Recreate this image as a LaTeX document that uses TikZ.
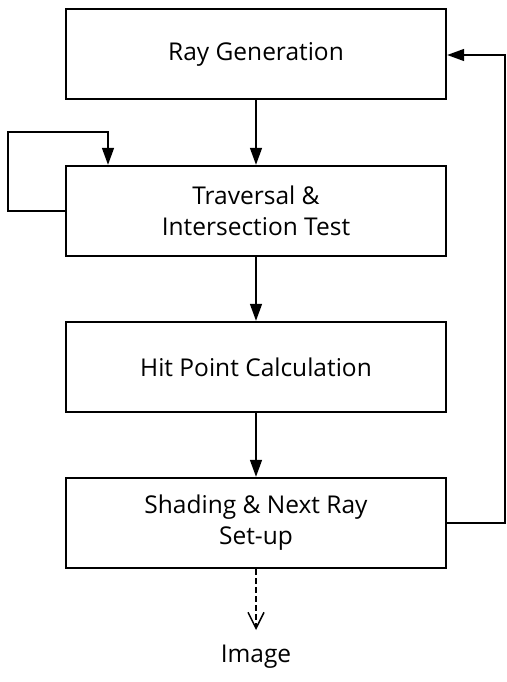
\documentclass[tikz,border=0pt]{standalone}
\usepackage{fontspec}
\setmainfont{Open Sans}
\usetikzlibrary{arrows.meta}
\begin{document}
\begin{tikzpicture}[x=1pt,y=-1pt,
  stage/.style={draw,line width=2.4pt,minimum width=380pt,minimum height=90pt,align=center,font=\fontsize{24.5}{31}\selectfont,inner sep=0pt},
  conn/.style={line width=1.5pt,-{Triangle[length=17pt,width=12pt]}},
  plain/.style={line width=1.5pt}]
\useasboundingbox (0,0) rectangle (506,682);
\node[stage] (rg) at (256,54) {Ray Generation};
\node[stage] (tr) at (256,211) {Traversal \&\\Intersection Test};
\node[stage] (hp) at (256,367) {Hit Point Calculation};
\node[stage] (sh) at (256,523) {Shading \& Next Ray\\Set-up};
\node[font=\fontsize{24.5}{28}\selectfont,inner sep=0pt] (img) at (256,657) {Image};
\coordinate (outend) at (256,630);
\coordinate (r1) at (505,523);
\coordinate (r2) at (505,55);
\coordinate (l1) at (8,211);
\coordinate (l2) at (8,132);
\coordinate (l3) at (108,132);
\draw[conn] (rg) -- (tr);
\draw[conn] (tr) -- (hp);
\draw[conn] (hp) -- (sh);
\draw[line width=1.5pt,dash pattern=on 6pt off 3pt,-{Straight Barb[length=16pt,width=16pt,line width=1.5pt]}] (sh.south) -- (outend);
\draw[conn] (sh.east) -- (r1) -- (r2) -- (r2 -| rg.east);
\draw[conn] (tr.west |- l1) -- (l1) -- (l2) -- (l3) -- (l3 |- tr.north);
\end{tikzpicture}
\end{document}
